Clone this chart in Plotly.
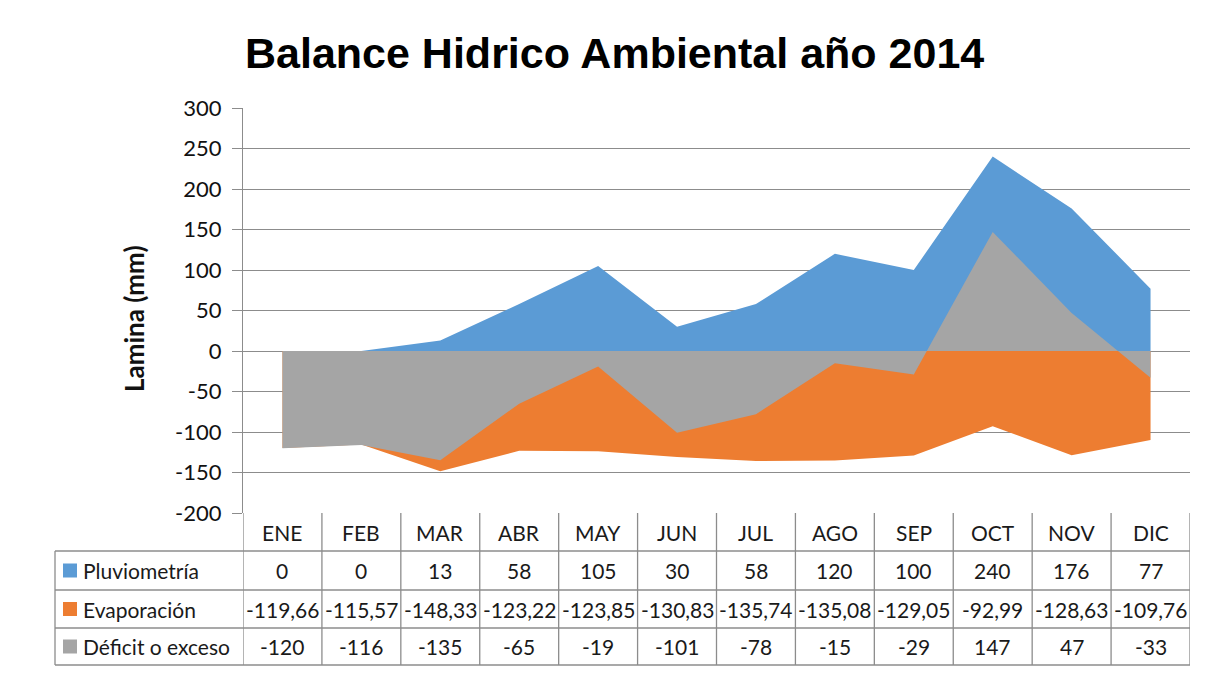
import plotly.graph_objects as go

# data
meses = ["ENE", "FEB", "MAR", "ABR", "MAY", "JUN", "JUL", "AGO", "SEP", "OCT", "NOV", "DIC"]
pluviometria = [0, 0, 13, 58, 105, 30, 58, 120, 100, 240, 176, 77]
evaporacion = [-119.66, -115.57, -148.33, -123.22, -123.85, -130.83, -135.74, -135.08, -129.05, -92.99, -128.63, -109.76]
deficit = [-120, -116, -135, -65, -19, -101, -78, -15, -29, 147, 47, -33]
y_ticks = [-200, -150, -100, -50, 0, 50, 100, 150, 200, 250, 300]

series = [
    ("Pluviometría", pluviometria, "#5B9BD5", lambda v: str(v)),
    ("Evaporación", evaporacion, "#ED7D31", lambda v: f"{v:.2f}".replace(".", ",")),
    ("Déficit o exceso", deficit, "#A5A5A5", lambda v: str(v)),
]

# page body has an 8px margin, so the figure is drawn 8px in from the window corner
OFF = 8
W, H = 1200, 661
L, T = 243 - OFF, 108 - OFF
R = W - (1190 - OFF)
B = H - (513 - OFF)
pw, ph = W - L - R, H - T - B
grid = "#8C8C8C"
font = "Lato, 'Open Sans', sans-serif"


def py(px):  # reference pixel row -> paper y
    return (H - B - (px - OFF)) / ph


def pxx(px):  # reference pixel col -> paper x
    return (px - OFF - L) / pw


fig = go.Figure()
xs = list(range(len(meses)))
for name, vals, color, _ in series:
    fig.add_trace(go.Scatter(x=xs, y=vals, name=name, mode="none", fill="tozeroy",
                             fillcolor=color, showlegend=False))

shapes = []
annotations = []
# table rows: category row then 3 series rows
rows_y = [513, 551, 590, 628, 665]
for yy in rows_y[1:]:
    shapes.append(dict(type="line", xref="paper", yref="paper", x0=pxx(55), x1=1,
                       y0=py(yy), y1=py(yy), line=dict(color=grid, width=1.3)))
for k in range(len(meses) + 1):
    shapes.append(dict(type="line", xref="x", yref="paper", x0=k - 0.5, x1=k - 0.5,
                       y0=py(513), y1=py(665), line=dict(color=grid, width=1.3)))
shapes.append(dict(type="line", xref="paper", yref="paper", x0=pxx(55), x1=pxx(55),
                   y0=py(551), y1=py(665), line=dict(color=grid, width=1.3)))

tfont = dict(size=21, color="#1a1a1a")
for i, m in enumerate(meses):
    annotations.append(dict(x=i, y=py(532), xref="x", yref="paper", text=m, showarrow=False,
                            font=tfont, xanchor="center", yanchor="middle"))

for r, (name, vals, color, fmt) in enumerate(series):
    yc = (rows_y[r + 1] + rows_y[r + 2]) / 2
    shapes.append(dict(type="rect", xref="paper", yref="paper", x0=pxx(63), x1=pxx(77),
                       y0=py(yc - 7), y1=py(yc + 7), fillcolor=color, line=dict(width=0)))
    annotations.append(dict(x=pxx(81), y=py(yc), xref="paper", yref="paper", text=name,
                            showarrow=False, xanchor="left", yanchor="middle", font=tfont))
    for i, v in enumerate(vals):
        annotations.append(dict(x=i, y=py(yc), xref="x", yref="paper", text=fmt(v),
                                showarrow=False, xanchor="center", yanchor="middle", font=tfont))

annotations.append(dict(x=pxx(134), y=py(319), xref="paper", yref="paper", text="<b>Lamina (mm)</b>",
                        textangle=-90, showarrow=False, xanchor="center", yanchor="middle",
                        font=dict(size=26, color="#111")))
annotations.append(dict(x=pxx(614), y=py(53), xref="paper", yref="paper",
                        text="<b>Balance Hidrico Ambiental año 2014</b>", showarrow=False,
                        xanchor="center", yanchor="middle",
                        font=dict(size=43, color="#000", family="'Liberation Sans', Arial, sans-serif")))

fig.update_layout(
    width=W, height=H,
    margin=dict(l=L, r=R, t=T, b=B, pad=0),
    paper_bgcolor="white", plot_bgcolor="white",
    font=dict(family=font, color="#222"),
    shapes=shapes, annotations=annotations,
    xaxis=dict(range=[-0.5, 11.5], showticklabels=False, showgrid=False, zeroline=False,
               ticks="", fixedrange=True),
    yaxis=dict(range=[-200, 300], tickvals=y_ticks, ticktext=[str(t) for t in y_ticks],
               showgrid=True, gridcolor=grid, gridwidth=1.3,
               zeroline=True, zerolinecolor=grid, zerolinewidth=1.3,
               showline=True, linecolor=grid, linewidth=1.3,
               ticks="outside", ticklen=10, tickcolor=grid, tickwidth=1.3,
               ticklabelstandoff=6,
               tickfont=dict(size=22, color="#111"), layer="below traces"),
)
fig.write_html("out.html")
